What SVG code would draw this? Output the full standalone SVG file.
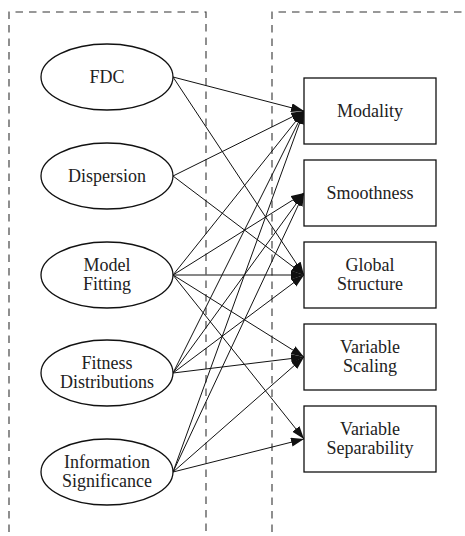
<svg xmlns="http://www.w3.org/2000/svg" width="465" height="536" viewBox="0 0 465 536">
<style>
.frame{fill:none;stroke:#333;stroke-width:1.1;stroke-dasharray:7.5,6}
.node ellipse,.node rect{fill:#fff;stroke:#111;stroke-width:1.3}
.node text{font-family:"Liberation Serif","DejaVu Serif","Times New Roman",serif;font-size:18px;fill:#222;text-anchor:middle}
.edge{stroke:#111;stroke-width:1;fill:none;marker-end:url(#ah)}
</style>
<defs>
<marker id="ah" markerUnits="userSpaceOnUse" markerWidth="14" markerHeight="10" refX="13" refY="4.5" orient="auto">
<path d="M0,0 L13,4.5 L0,9 z" fill="#111"/>
</marker>
</defs>
<g id="frames">
<path class="frame" d="M9,532 V12 H206 V536"/>
<path class="frame" d="M272,532 V12 H465"/>
</g>
<g id="connectors">
<line class="edge" x1="173" y1="77" x2="304" y2="111"/>
<line class="edge" x1="173" y1="77" x2="304" y2="275"/>
<line class="edge" x1="173" y1="176" x2="304" y2="111"/>
<line class="edge" x1="173" y1="176" x2="304" y2="275"/>
<line class="edge" x1="173" y1="275" x2="304" y2="111"/>
<line class="edge" x1="173" y1="275" x2="304" y2="193"/>
<line class="edge" x1="173" y1="275" x2="304" y2="275"/>
<line class="edge" x1="173" y1="275" x2="304" y2="357"/>
<line class="edge" x1="173" y1="275" x2="304" y2="439"/>
<line class="edge" x1="173" y1="373" x2="304" y2="111"/>
<line class="edge" x1="173" y1="373" x2="304" y2="193"/>
<line class="edge" x1="173" y1="373" x2="304" y2="275"/>
<line class="edge" x1="173" y1="373" x2="304" y2="357"/>
<line class="edge" x1="173" y1="472" x2="304" y2="111"/>
<line class="edge" x1="173" y1="472" x2="304" y2="193"/>
<line class="edge" x1="173" y1="472" x2="304" y2="357"/>
<line class="edge" x1="173" y1="472" x2="304" y2="439"/>
</g>
<g id="fdc" class="node"><ellipse cx="107" cy="77" rx="66" ry="33"/><text x="107" y="82.5">FDC</text></g>
<g id="dispersion" class="node"><ellipse cx="107" cy="176" rx="66" ry="33"/><text x="107" y="181.5">Dispersion</text></g>
<g id="model-fitting" class="node"><ellipse cx="107" cy="275" rx="66" ry="33"/><text x="107" y="270.5">Model</text><text x="107" y="289.5">Fitting</text></g>
<g id="fitness-distributions" class="node"><ellipse cx="107" cy="373" rx="66" ry="33"/><text x="107" y="368.5">Fitness</text><text x="107" y="387.5">Distributions</text></g>
<g id="information-significance" class="node"><ellipse cx="107" cy="472" rx="66" ry="33"/><text x="107" y="467.5">Information</text><text x="107" y="486.5">Significance</text></g>
<g id="modality" class="node"><rect x="304" y="78" width="132" height="66"/><text x="370" y="116.5">Modality</text></g>
<g id="smoothness" class="node"><rect x="304" y="160" width="132" height="66"/><text x="370" y="198.5">Smoothness</text></g>
<g id="global-structure" class="node"><rect x="304" y="242" width="132" height="66"/><text x="370" y="270.5">Global</text><text x="370" y="289.5">Structure</text></g>
<g id="variable-scaling" class="node"><rect x="304" y="324" width="132" height="66"/><text x="370" y="352.5">Variable</text><text x="370" y="371.5">Scaling</text></g>
<g id="variable-separability" class="node"><rect x="304" y="406" width="132" height="66"/><text x="370" y="434.5">Variable</text><text x="370" y="453.5">Separability</text></g>
</svg>
